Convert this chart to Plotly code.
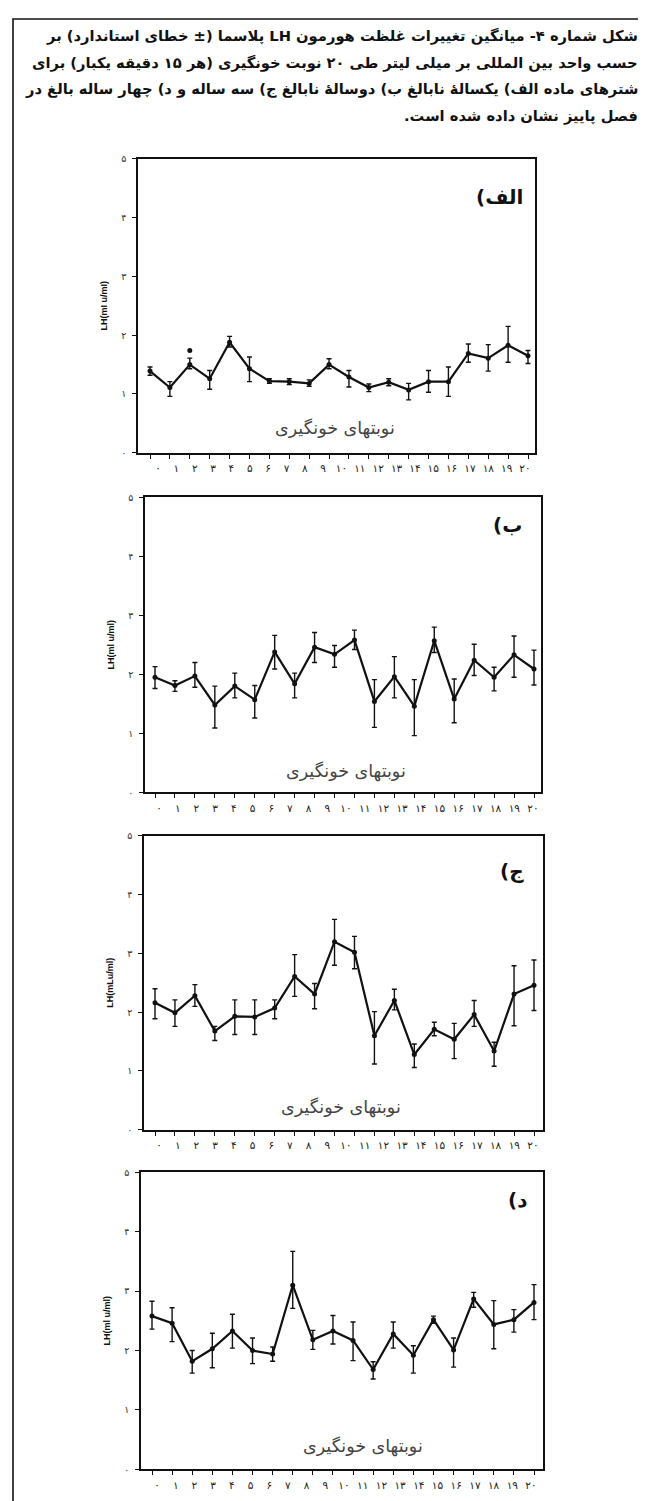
import plotly.graph_objects as go

W, H = 646, 1501

# ---------------- data ----------------
samples = list(range(1, 21))
FA = "۰۱۲۳۴۵۶۷۸۹"


def fa(n):
    return "".join(FA[int(c)] for c in str(n))


x_tick_labels = [fa(k) for k in range(21)]
y_tick_vals = [0, 1, 2, 3, 4, 5]
y_tick_labels = [fa(v) for v in y_tick_vals]

title_lines = [
    "شکل شماره ۴- میانگین تغییرات غلظت هورمون LH پلاسما (± خطای استاندارد) بر",
    "حسب واحد بین المللی بر میلی لیتر طی ۲۰ نوبت خونگیری (هر ۱۵ دقیقه یکبار) برای",
    "شترهای ماده الف) یکسالهٔ نابالغ ب) دوسالهٔ نابالغ ج) سه ساله و د) چهار ساله بالغ در",
    "فصل پاییز نشان داده شده است.",
]
panel_labels = ["الف)", "ب)", "ج)", "د)"]
x_caption = "نوبتهای خونگیری"
y_titles = ["LH(mI u/mI)", "LH(ml u/ml)", "LH(mLu/ml)", "LH(ml u/ml)"]

# panel a (one-year-old immature)
mean_a = [1.39, 1.11, 1.50, 1.26, 1.88, 1.43, 1.22, 1.21, 1.18, 1.50,
          1.29, 1.11, 1.20, 1.07, 1.21, 1.21, 1.69, 1.61, 1.83, 1.65]
hi_a = [1.46, 1.21, 1.61, 1.40, 1.98, 1.63, 1.26, 1.26, 1.24, 1.60,
        1.40, 1.17, 1.26, 1.18, 1.40, 1.46, 1.85, 1.84, 2.15, 1.74]
lo_a = [1.32, 0.96, 1.43, 1.08, 1.80, 1.21, 1.18, 1.16, 1.13, 1.43,
        1.12, 1.04, 1.14, 0.90, 1.03, 0.96, 1.54, 1.39, 1.54, 1.52]
extra_a_x = [3]
extra_a_y = [1.74]

# panel b (two-year-old immature)
mean_b = [1.95, 1.81, 1.97, 1.48, 1.80, 1.57, 2.38, 1.84, 2.46, 2.34,
          2.58, 1.54, 1.96, 1.46, 2.57, 1.58, 2.24, 1.95, 2.33, 2.09]
hi_b = [2.13, 1.89, 2.20, 1.80, 2.02, 1.81, 2.66, 2.02, 2.71, 2.49,
        2.75, 1.91, 2.30, 1.91, 2.80, 1.92, 2.51, 2.12, 2.65, 2.41]
lo_b = [1.76, 1.71, 1.78, 1.09, 1.60, 1.26, 2.09, 1.60, 2.20, 2.12,
        2.42, 1.10, 1.60, 0.96, 2.37, 1.18, 1.98, 1.72, 1.95, 1.82]

# panel c (three-year-old)
mean_c = [2.16, 1.99, 2.28, 1.68, 1.93, 1.92, 2.07, 2.61, 2.31, 3.20,
          3.02, 1.60, 2.20, 1.28, 1.71, 1.54, 1.96, 1.34, 2.31, 2.46]
hi_c = [2.40, 2.21, 2.47, 1.76, 2.21, 2.21, 2.21, 2.98, 2.49, 3.58,
        3.29, 2.01, 2.39, 1.46, 1.83, 1.81, 2.20, 1.49, 2.79, 2.89]
lo_c = [1.89, 1.76, 2.10, 1.52, 1.62, 1.62, 1.89, 2.27, 2.06, 2.80,
        2.74, 1.12, 2.04, 1.06, 1.60, 1.21, 1.76, 1.08, 1.77, 2.03]

# panel d (four-year-old adult)
mean_d = [2.58, 2.46, 1.82, 2.03, 2.33, 2.00, 1.94, 3.10, 2.18, 2.33,
          2.17, 1.68, 2.28, 1.92, 2.52, 2.01, 2.87, 2.44, 2.52, 2.81]
hi_d = [2.83, 2.72, 2.00, 2.29, 2.61, 2.21, 2.06, 3.67, 2.34, 2.59,
        2.48, 1.81, 2.48, 2.08, 2.58, 2.21, 2.98, 2.84, 2.69, 3.11]
lo_d = [2.36, 2.15, 1.62, 1.71, 2.04, 1.78, 1.82, 2.71, 2.02, 2.11,
        1.83, 1.52, 2.04, 1.62, 2.46, 1.72, 2.73, 2.03, 2.31, 2.52]

means = [mean_a, mean_b, mean_c, mean_d]
highs = [hi_a, hi_b, hi_c, hi_d]
lows = [lo_a, lo_b, lo_c, lo_d]

# ---------------- layout geometry (pixels) ----------------
# left, right, top(y=5), bottom(y=0), first point, last point, label0, label20
geom = [
    (130, 527, 146, 442, 142, 520, 150, 517),
    (137, 533, 487, 784, 147, 526, 151, 525),
    (136, 535, 828, 1124, 147, 526, 151, 525),
    (133, 535, 1167, 1466, 144, 526, 149, 523),
]
caption_pos = [(327, 418), (338, 763), (333, 1102), (355, 1443)]
label_pos = [(517, 184), (516, 515), (518, 863), (521, 1195)]
title_y = [22, 49, 76, 103]


def px(x):
    return x / W


def py(y):
    return 1 - y / H


fig = go.Figure()
layout = dict(
    width=W, height=H,
    margin=dict(l=0, r=0, t=0, b=0),
    paper_bgcolor="white", plot_bgcolor="white",
    showlegend=False,
    annotations=[], shapes=[],
)

INK = "#111111"
for i in range(4):
    L, R, T, B, p1, p20, l0, l20 = geom[i]
    s = (p20 - p1) / 19.0
    r0 = 1 - (p1 - L) / s
    r1 = 20 + (R - p20) / s
    lab_pos = [1 + (l0 + k * (l20 - l0) / 20.0 - p1) / s for k in range(21)]

    xa = "xaxis" if i == 0 else f"xaxis{i + 1}"
    ya = "yaxis" if i == 0 else f"yaxis{i + 1}"
    xr = "x" if i == 0 else f"x{i + 1}"
    yr = "y" if i == 0 else f"y{i + 1}"
    xl = f"x{i + 5}"
    xla = f"xaxis{i + 5}"

    m = means[i]
    err_p = [h - v for h, v in zip(highs[i], m)]
    err_m = [v - l for v, l in zip(m, lows[i])]
    fig.add_trace(go.Scatter(
        x=samples, y=m, xaxis=xr, yaxis=yr, mode="lines+markers",
        line=dict(color=INK, width=2.2),
        marker=dict(color=INK, size=5),
        error_y=dict(type="data", symmetric=False, array=err_p, arrayminus=err_m,
                     color=INK, thickness=1.4, width=2.5),
        hoverinfo="skip",
    ))
    if i == 0:
        fig.add_trace(go.Scatter(
            x=extra_a_x, y=extra_a_y, xaxis=xr, yaxis=yr, mode="markers",
            marker=dict(color=INK, size=5), hoverinfo="skip"))
    # invisible trace for tick-label axis
    fig.add_trace(go.Scatter(x=[None], y=[None], xaxis=xl, yaxis=yr,
                             mode="markers", hoverinfo="skip"))

    layout[xa] = dict(
        domain=[px(L), px(R)], anchor=yr, range=[r0, r1],
        showgrid=False, zeroline=False, showline=True, mirror=True,
        linecolor=INK, linewidth=1.7,
        tickmode="array", tickvals=samples, showticklabels=False,
        ticks="outside", ticklen=4, tickwidth=1.2, tickcolor=INK,
        fixedrange=True,
    )
    layout[xla] = dict(
        overlaying=xr, anchor=yr, range=[r0, r1],
        showgrid=False, zeroline=False, showline=False,
        tickmode="array", tickvals=lab_pos, ticktext=x_tick_labels,
        ticks="", ticklabelstandoff=8,
        tickfont=dict(family="DejaVu Sans", size=10.5, color="#222"),
        fixedrange=True,
    )
    layout[ya] = dict(
        domain=[py(B), py(T)], anchor=xr, range=[0, 5],
        showgrid=False, zeroline=False, showline=True, mirror=True,
        linecolor=INK, linewidth=1.7,
        tickmode="array", tickvals=y_tick_vals, ticktext=y_tick_labels,
        ticks="outside", ticklen=4, tickwidth=1.2, tickcolor=INK,
        ticklabelstandoff=4,
        tickfont=dict(family="DejaVu Sans", size=9.5, color="#333"),
        title=dict(text=y_titles[i], standoff=12,
                   font=dict(family="Liberation Sans", size=9, color=INK, weight="bold")),
        fixedrange=True,
    )

    cx, cy = caption_pos[i]
    layout["annotations"].append(dict(
        xref="paper", yref="paper", x=px(cx), y=py(cy), xanchor="center", yanchor="middle",
        text="\u202b" + x_caption + "\u202c", showarrow=False,
        font=dict(family="DejaVu Sans", size=17.5, color="#444"),
    ))
    lx, ly = label_pos[i]
    layout["annotations"].append(dict(
        xref="paper", yref="paper", x=px(lx), y=py(ly), xanchor="right", yanchor="middle",
        text="\u202b" + panel_labels[i] + "\u202c", showarrow=False,
        font=dict(family="DejaVu Sans", size=20, color=INK, weight="bold"),
    ))

for line, ty in zip(title_lines, title_y):
    layout["annotations"].append(dict(
        xref="paper", yref="paper", x=px(632), y=py(ty), xanchor="right", yanchor="middle",
        text="\u202b" + line + "\u202c", showarrow=False, align="right",
        font=dict(family="DejaVu Sans", size=14.7, color=INK, weight="bold"),
    ))

# outer frame
layout["shapes"].append(dict(
    type="rect", xref="paper", yref="paper",
    x0=px(5), x1=px(641), y0=py(1510), y1=py(5),
    line=dict(color=INK, width=1.6), fillcolor="rgba(0,0,0,0)",
))

fig.update_layout(**layout)
fig.write_html("out.html")
